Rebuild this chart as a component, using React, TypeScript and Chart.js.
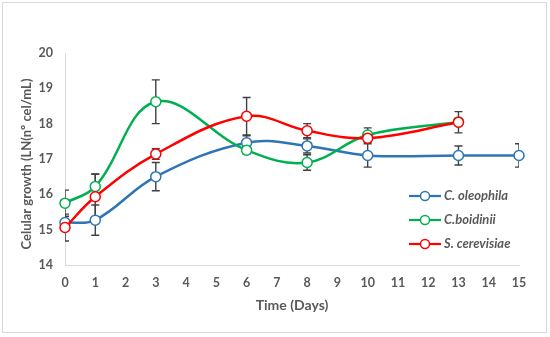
import React, { useEffect, useRef } from "react";
import { Chart, registerables } from "chart.js";

Chart.register(...registerables);

const days = [0, 1, 3, 6, 8, 10, 13, 15];
const daysShort = [0, 1, 3, 6, 8, 10, 13];
const oleophila = [15.2, 15.27, 16.5, 17.46, 17.37, 17.1, 17.1, 17.1];
const oleophilaErr = [0.17, 0.43, 0.4, 0.2, 0.2, 0.33, 0.27, 0.33];
const boidinii = [15.75, 16.22, 18.62, 17.25, 16.9, 17.68, 18.05];
const boidiniiErr = [0.37, 0.35, 0.62, 0.1, 0.22, 0.2, 0.1];
const cerevisiae = [15.06, 15.93, 17.14, 18.21, 17.8, 17.59, 18.04];
const cerevisiaeErr = [0.38, 0.65, 0.15, 0.53, 0.2, 0.1, 0.3];
const seriesNames = ["C. oleophila", "C.boidinii", "S. cerevisiae"];
const seriesColors = ["#2E75B6", "#00B050", "#FF0000"];
const xTitle = "Time (Days)";
const yTitle = "Celular growth (LN(nº cel/mL)";

const TEXT = "#595959";

const errorBarPlugin = {
  id: "errorBars",
  beforeDatasetsDraw(chart: any) {
    const ctx = chart.ctx;
    const ca = chart.chartArea;
    const xs = chart.scales.x;
    const ys = chart.scales.y;
    ctx.save();
    ctx.beginPath();
    ctx.rect(ca.left, ca.top - 20, ca.right - ca.left, ca.bottom - ca.top + 40);
    ctx.clip();
    ctx.strokeStyle = "#404040";
    ctx.lineWidth = 1.4;
    chart.data.datasets.forEach((ds: any) => {
      const errs = ds.errors as number[];
      ds.data.forEach((p: any, i: number) => {
        const e = errs[i];
        if (!e) return;
        const x = xs.getPixelForValue(p.x);
        const y1 = ys.getPixelForValue(p.y + e);
        const y2 = ys.getPixelForValue(p.y - e);
        ctx.beginPath();
        ctx.moveTo(x, y1);
        ctx.lineTo(x, y2);
        ctx.moveTo(x - 4, y1);
        ctx.lineTo(x + 4, y1);
        ctx.moveTo(x - 4, y2);
        ctx.lineTo(x + 4, y2);
        ctx.stroke();
      });
    });
    ctx.restore();
  },
  afterDraw(chart: any) {
    const ctx = chart.ctx;
    const ca = chart.chartArea;
    ctx.save();
    ctx.fillStyle = TEXT;
    ctx.textAlign = "center";
    ctx.textBaseline = "middle";
    ctx.font = "bold 14px Lato";
    ctx.fillText(xTitle, (ca.left + ca.right) / 2, 305);
    ctx.save();
    ctx.translate(27, 164);
    ctx.rotate(-Math.PI / 2);
    ctx.font = "bold 13px Lato";
    ctx.fillText(yTitle, 0, 0);
    ctx.restore();
    const rows = [196, 220, 244];
    chart.data.datasets.forEach((ds: any, i: number) => {
      const y = rows[i];
      ctx.strokeStyle = ds.borderColor;
      ctx.lineWidth = 2.2;
      ctx.beginPath();
      ctx.moveTo(409, y);
      ctx.lineTo(441, y);
      ctx.stroke();
      ctx.beginPath();
      ctx.arc(425, y, 4.5, 0, Math.PI * 2);
      ctx.fillStyle = "#FFFFFF";
      ctx.fill();
      ctx.lineWidth = 1.5;
      ctx.stroke();
      ctx.fillStyle = TEXT;
      ctx.font = "italic bold 13px Lato";
      ctx.textAlign = "left";
      ctx.fillText(ds.label, 444, y);
    });
    ctx.restore();
  },
};

function mk(xs: number[], ys: number[]) {
  return xs.map((x, i) => ({ x, y: ys[i] }));
}

export default function App() {
  const ref = useRef<HTMLCanvasElement>(null);
  useEffect(() => {
    if (!ref.current) return;
    const seriesData = [
      [days, oleophila, oleophilaErr],
      [daysShort, boidinii, boidiniiErr],
      [daysShort, cerevisiae, cerevisiaeErr],
    ] as any[];
    const chart = new Chart(ref.current, {
      type: "line",
      data: {
        datasets: seriesData.map((s, i) => ({
          label: seriesNames[i],
          data: mk(s[0], s[1]),
          errors: s[2],
          borderColor: seriesColors[i],
          backgroundColor: "#FFFFFF",
          pointBackgroundColor: "#FFFFFF",
          pointBorderColor: seriesColors[i],
          pointRadius: 5,
          pointBorderWidth: 1.5,
          borderWidth: 2.5,
          tension: 0.38,
          clip: false,
          order: 2 - i,
        })) as any,
      },
      options: {
        animation: false,
        responsive: false,
        events: [],
        layout: { padding: { left: 0, right: 31, top: 53, bottom: 0 } },
        plugins: { legend: { display: false }, tooltip: { enabled: false } },
        scales: {
          x: {
            type: "linear",
            min: 0,
            max: 15,
            afterFit: (s: any) => {
              s.height = 337 - 265;
            },
            ticks: {
              stepSize: 1,
              padding: 10,
              color: TEXT,
              font: { family: "Lato", weight: "bold", size: 12.5 },
            },
            grid: { display: true, drawOnChartArea: false, drawTicks: false, color: "#D9D9D9" },
            border: { color: "#D9D9D9", width: 1 },
          },
          y: {
            min: 14,
            max: 20,
            afterFit: (s: any) => {
              s.width = 65;
            },
            ticks: {
              stepSize: 1,
              padding: 12,
              color: TEXT,
              font: { family: "Lato", weight: "bold", size: 12.5 },
            },
            grid: { display: true, drawOnChartArea: false, drawTicks: false, color: "#D9D9D9" },
            border: { color: "#D9D9D9", width: 1 },
          },
        },
      } as any,
      plugins: [errorBarPlugin],
    });
    return () => chart.destroy();
  }, []);
  return (
    <div style={{ position: "fixed", left: 0, top: 0, width: 550, height: 337, background: "#fff" }}>
      <div
        style={{
          position: "absolute",
          left: 2,
          top: 2,
          width: 543,
          height: 329,
          border: "1px solid #D9D9D9",
        }}
      />
      <canvas ref={ref} width={550} height={337} style={{ position: "absolute", left: 0, top: 0 }} />
    </div>
  );
}
